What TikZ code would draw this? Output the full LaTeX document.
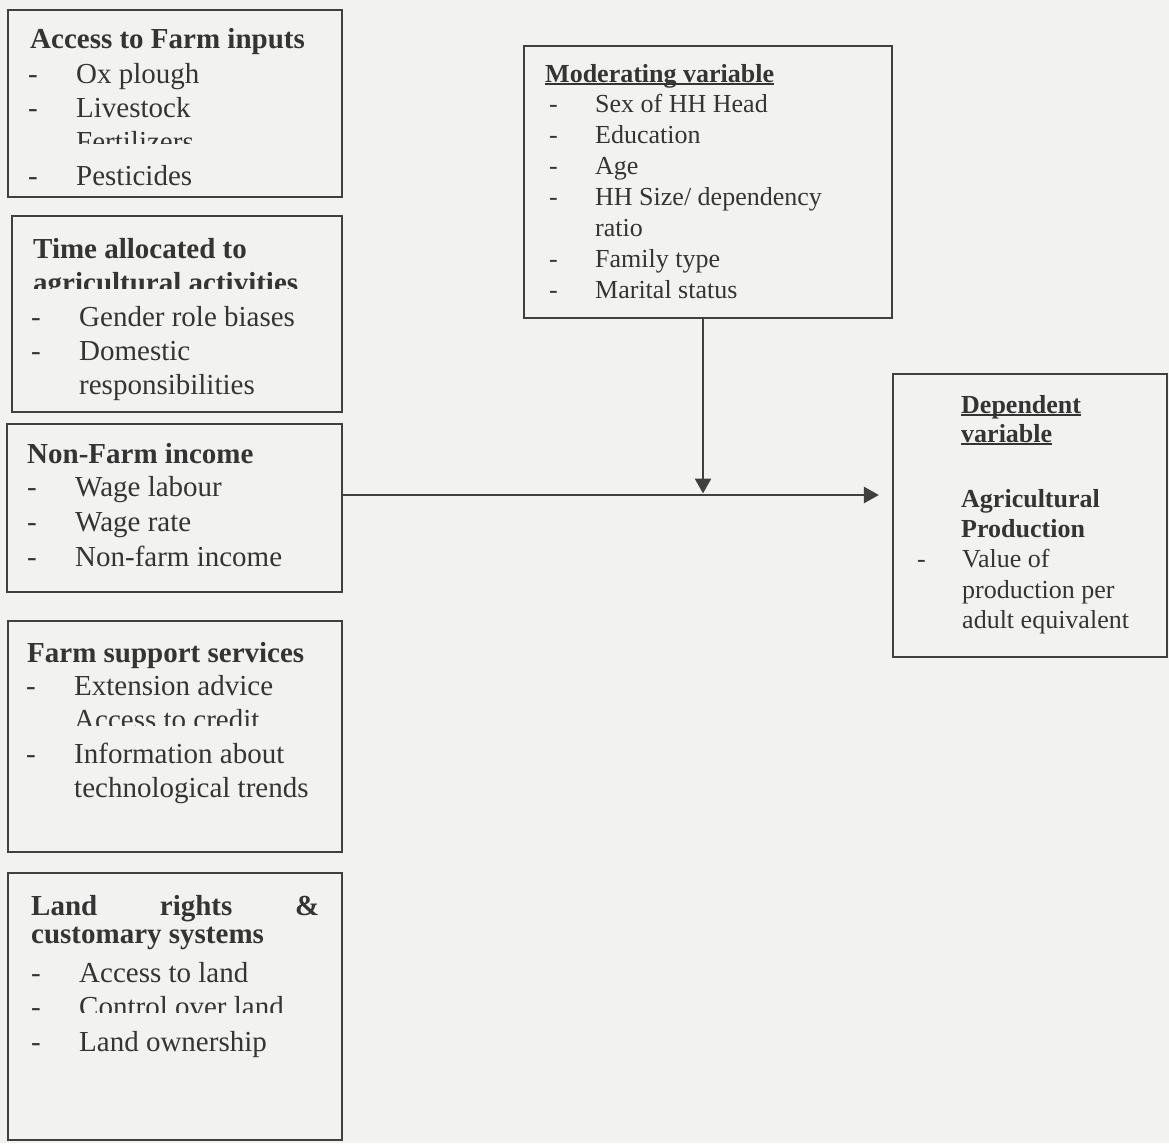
\documentclass[tikz,border=0pt]{standalone}
\usepackage{fontspec}
\setmainfont{Liberation Serif}
\usetikzlibrary{arrows.meta}
\definecolor{paper}{RGB}{242,242,240}
\definecolor{ink}{RGB}{52,52,52}
\definecolor{rule}{RGB}{64,64,64}
\newcommand\itemdash[1][48pt]{\makebox[#1][l]{-}}
\newcommand\ulbf[1]{\setbox0=\hbox{#1}\rlap{\rule[-3pt]{\wd0}{1.6pt}}\box0}

\begin{document}
\begin{tikzpicture}[x=1pt,y=-1pt,
    box/.style={draw=rule, line width=2.2pt, inner sep=0pt},
    big/.style={anchor=base west, inner sep=0pt, text=ink, font=\fontsize{29}{34}\selectfont},
    head/.style={big, font=\fontsize{29}{34}\selectfont\bfseries},
    small/.style={anchor=base west, inner sep=0pt, text=ink, font=\fontsize{26}{31}\selectfont},
    shead/.style={small, font=\fontsize{26}{31}\selectfont\bfseries},
    arr/.style={draw=rule, line width=2.6pt, -{Triangle[length=15pt,width=16pt]}}]
  \fill[paper] (0,0) rectangle (1169,1143);
  \useasboundingbox (0,0) rectangle (1169,1143);

  % access to farm inputs
  \node[box, minimum width=334pt, minimum height=187pt] (inputs) at (175,103.5) {};
  \node[head] (inputs-head) at (30,48) {Access to Farm inputs};
  \foreach \y/\t [count=\i] in {83/Ox plough, 117/Livestock, 185/Pesticides}
    \node[big] (inputs-\i) at (28,\y) {\itemdash\t};
  \begin{scope}
    \clip (60,120) rectangle (330,143);
    \node[big] (inputs-cut) at (76,151) {Fertilizers};
  \end{scope}

  % time allocated
  \node[box, minimum width=330pt, minimum height=196pt] (time) at (177,314) {};
  \node[head] (time-head) at (33,258) {Time allocated to};
  \begin{scope}
    \clip (20,262) rectangle (330,288);
    \node[head] (time-cut) at (33,292) {agricultural activities};
  \end{scope}
  \foreach \y/\t [count=\i] in {326/Gender role biases, 360/Domestic}
    \node[big] (time-\i) at (31,\y) {\itemdash\t};
  \node[big] (time-3) at (79,394) {responsibilities};

  % non-farm income
  \node[box, minimum width=335pt, minimum height=168pt] (income) at (174.5,508) {};
  \node[head] (income-head) at (27,463) {Non-Farm income};
  \foreach \y/\t [count=\i] in {496/Wage labour, 531/Wage rate, 566/Non-farm income}
    \node[big] (income-\i) at (27,\y) {\itemdash\t};

  % farm support services
  \node[box, minimum width=334pt, minimum height=231pt] (support) at (175,736.5) {};
  \node[head] (support-head) at (27,662) {Farm support services};
  \foreach \y/\t [count=\i] in {695/Extension advice, 763/Information about}
    \node[big] (support-\i) at (26,\y) {\itemdash\t};
  \node[big] (support-3) at (74,797) {technological trends};
  \begin{scope}
    \clip (60,700) rectangle (330,725);
    \node[big] (support-cut) at (74,729) {Access to credit};
  \end{scope}

  % land rights
  \node[box, minimum width=334pt, minimum height=267pt] (land) at (175,1006.5) {};
  \node[head] (land-head) at (31,915) {\makebox[288pt][s]{Land rights \&}};
  \node[head] (land-head2) at (31,943) {customary systems};
  \foreach \y/\t [count=\i] in {982/Access to land, 1051/Land ownership}
    \node[big] (land-\i) at (31,\y) {\itemdash\t};
  \begin{scope}
    \clip (20,990) rectangle (330,1012);
    \node[big] (land-cut) at (31,1016) {\itemdash Control over land};
  \end{scope}

  % moderating variable
  \node[box, minimum width=368pt, minimum height=272pt] (moder) at (708,182) {};
  \node[shead] (moder-head) at (545,82) {\ulbf{Moderating variable}};
  \foreach \y/\t [count=\i] in {112/Sex of HH Head, 143/Education, 174/Age,
      205/{HH Size/ dependency}, 267/Family type, 298/Marital status}
    \node[small] (moder-\i) at (549,\y) {\itemdash[46pt]\t};
  \node[small] (moder-7) at (595,236) {ratio};

  % dependent variable
  \node[box, minimum width=274pt, minimum height=283pt] (dep) at (1030,515.5) {};
  \node[shead] (dep-head) at (961,413) {\ulbf{Dependent}};
  \node[shead] (dep-head2) at (961,442) {\ulbf{variable}};
  \node[shead] (dep-1) at (961,507) {Agricultural};
  \node[shead] (dep-2) at (961,537) {Production};
  \node[small] (dep-3) at (917,567) {\itemdash[45pt]Value of};
  \node[small] (dep-4) at (962,598) {production per};
  \node[small] (dep-5) at (962,628) {adult equivalent};

  % arrows
  \coordinate (meet) at (703,495);
  \draw[arr, shorten >=13pt] (income.east |- meet) -- (dep.west |- meet);
  \draw[arr, shorten >=1.5pt] (moder.south -| meet) -- (meet);
\end{tikzpicture}
\end{document}
